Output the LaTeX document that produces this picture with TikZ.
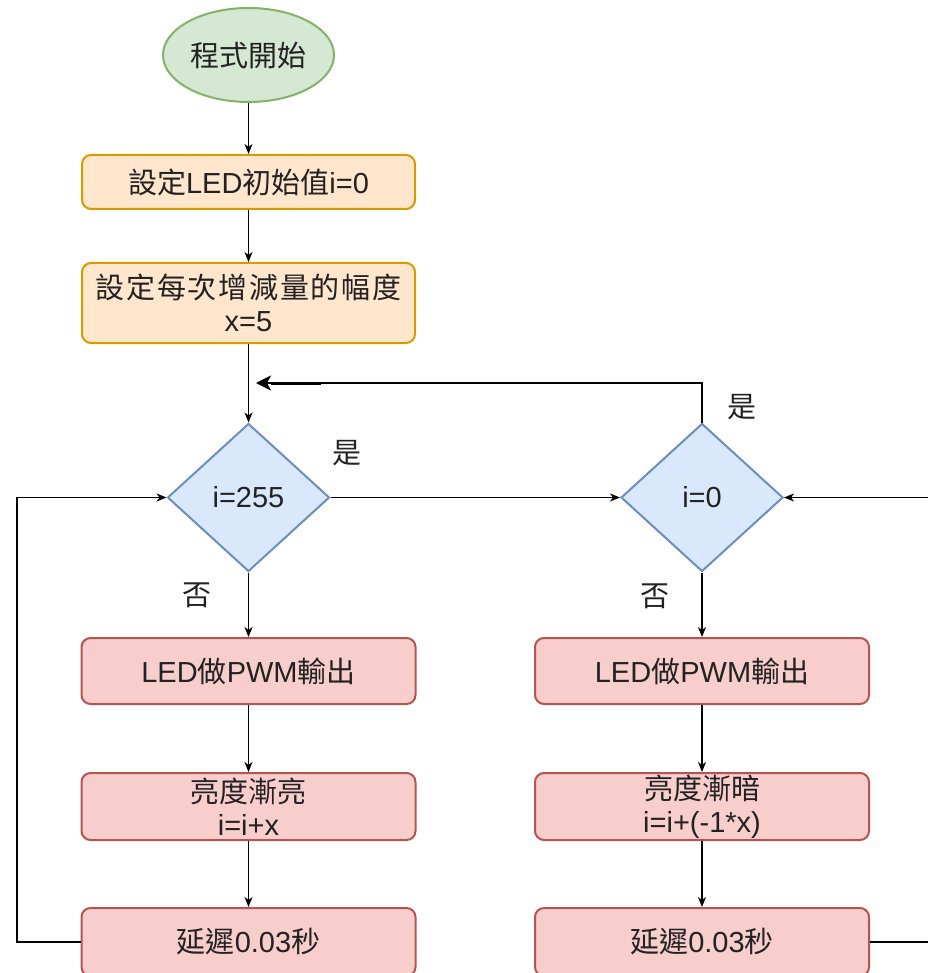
\documentclass[tikz,border=0pt]{standalone}
\usepackage{fontspec}
\setmainfont{Liberation Sans}
\newfontfamily\cjkfont{Noto Sans CJK TC}
\newcommand{\zh}[1]{{\cjkfont #1}}
\usetikzlibrary{shapes.geometric,arrows.meta}

\definecolor{gfill}{HTML}{D5E8D4}\definecolor{gline}{HTML}{82B366}
\definecolor{ofill}{HTML}{FFE6CC}\definecolor{oline}{HTML}{D79B00}
\definecolor{bfill}{HTML}{DAE8FC}\definecolor{bline}{HTML}{6C8EBF}
\definecolor{rfill}{HTML}{F8CECC}\definecolor{rline}{HTML}{B85450}
\definecolor{ink}{HTML}{222222}

\tikzset{
  txt/.style={text=ink, font=\fontsize{29}{33}\selectfont, align=center, inner sep=0pt},
  startnode/.style={txt, ellipse, draw=gline, fill=gfill, line width=2pt,
    minimum width=171pt, minimum height=94pt},
  setbox/.style={txt, rectangle, rounded corners=9pt, draw=oline, fill=ofill,
    line width=2pt, minimum width=333pt},
  workbox/.style={txt, rectangle, rounded corners=9pt, draw=rline, fill=rfill,
    line width=2pt, minimum width=334pt},
  decide/.style={txt, diamond, draw=bline, fill=bfill, line width=2pt,
    minimum width=162pt, minimum height=148pt},
  tag/.style={txt},
  flow/.style={draw=black, line width=1.3pt, -{Stealth[length=10pt,width=8pt,inset=3pt]}},
  wire/.style={draw=black, line width=1.3pt},
}

\begin{document}
\begin{tikzpicture}[x=1pt,y=-1pt]
  \useasboundingbox (0,0) rectangle (927,973);
  \fill[white] (0,0) rectangle (927,973);

  % start and initial settings
  \node[startnode] (start) at (248.5,55) {\zh{程式開始}};
  \node[setbox, minimum height=54pt] (init) at (248.5,182) {\zh{設定}LED\zh{初始值}i=0};
  \node[setbox, minimum height=80pt] (step) at (248.5,303)
    {{\cjkfont\addfontfeature{LetterSpace=6}設定每次增減量的幅度}\\x=5};

  % decisions
  \node[decide] (up) at (248.5,497.5) {i=255};
  \node[decide] (down) at (702,497.5) {i=0};

  % brightening column
  \node[workbox, minimum height=66pt] (pwmA) at (248.5,671) {LED\zh{做}PWM\zh{輸出}};
  \node[workbox, minimum height=67pt] (fadeA) at (248.5,806.5) {\zh{亮度漸亮}\\i=i+x};
  \node[workbox, minimum height=68pt] (waitA) at (248.5,942) {\zh{延遲}0.03\zh{秒}};

  % dimming column
  \node[workbox, minimum height=66pt] (pwmB) at (702,671) {LED\zh{做}PWM\zh{輸出}};
  \node[workbox, minimum height=67pt] (fadeB) at (702,806.5) {\zh{亮度漸暗}\\i=i+(-1*x)};
  \node[workbox, minimum height=68pt] (waitB) at (702,942) {\zh{延遲}0.03\zh{秒}};

  % branch labels
  \node[tag] (yesA) at (347,453) {\zh{是}};
  \node[tag] (noA) at (197,595) {\zh{否}};
  \node[tag] (yesB) at (742,407) {\zh{是}};
  \node[tag] (noB) at (655,596) {\zh{否}};

  % helper points
  \coordinate (tip) at (256,383);
  \coordinate (headend) at (271,383);
  \coordinate (thickend) at (321,383);
  \coordinate (loopL) at (17,942);
  \coordinate (loopR) at (945,942);

  % main flow
  \draw[flow] (start) -- (init);
  \draw[flow] (init) -- (step);
  \draw[flow] (step) -- (up);
  \draw[flow] (up) -- (down);
  \draw[flow] (up) -- (pwmA);
  \draw[flow] (pwmA) -- (fadeA);
  \draw[flow] (fadeA) -- (waitA);
  \draw[flow] (down) -- (pwmB);
  \draw[flow] (pwmB) -- (fadeB);
  \draw[flow] (fadeB) -- (waitB);

  % return from i=0 to the top of the loop
  \draw[wire, -{Stealth[length=15pt,width=15pt,inset=4pt]}] (down.north) |- (tip);
  \draw[line width=3pt] (headend) -- (thickend);

  % loops back to the decisions
  \draw[flow] (waitA.west) -- (loopL) |- (up.west);
  \draw[flow] (waitB.east) -- (loopR) |- (down.east);
\end{tikzpicture}
\end{document}
